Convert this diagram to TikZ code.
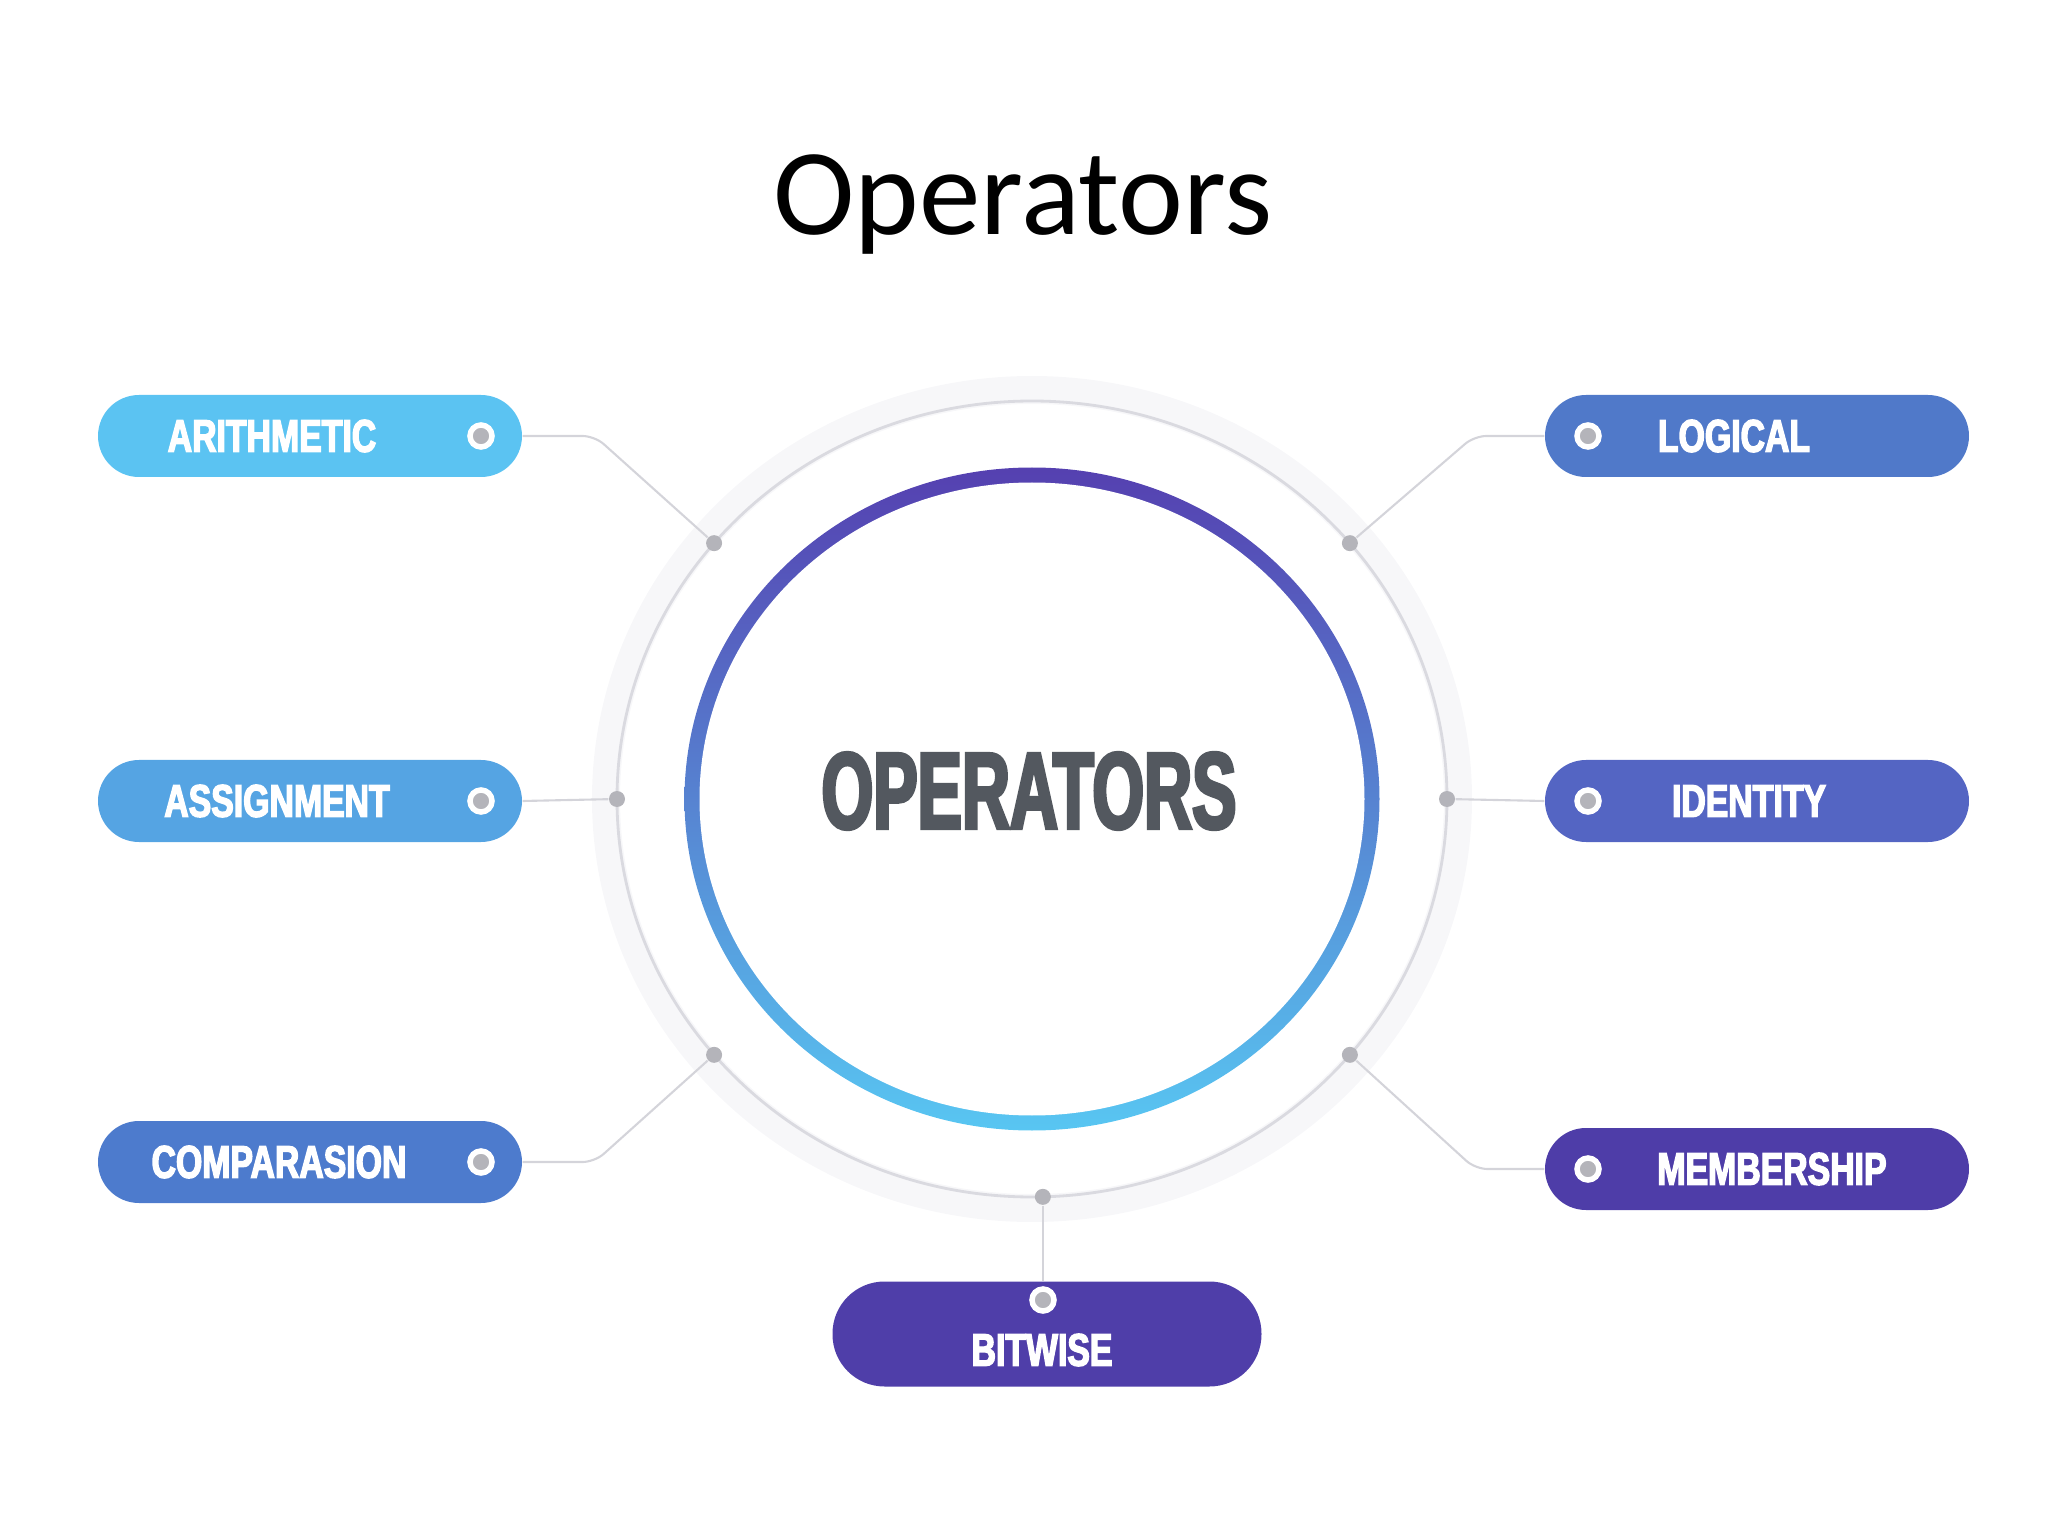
\documentclass[tikz,border=0pt]{standalone}
\usepackage{fontspec}
\setmainfont{Carlito}
\newfontfamily\pillfont[FakeStretch=0.74,FakeBold=3]{Liberation Sans}
\newfontfamily\hubfont[FakeStretch=0.61,FakeBold=3]{Liberation Sans}
\usepackage{tikz}

\begin{document}
\begin{tikzpicture}[x=1cm,y=1cm,
  pill/.style={rectangle,rounded corners=0.41cm,minimum width=4.24cm,minimum height=0.82cm,inner sep=0pt},
  pilltext/.style={text=white,font=\pillfont\bfseries\fontsize{13}{15}\selectfont,inner sep=0pt},
  pilldot/.style={circle,fill=dotgray,draw=white,line width=0.055cm,minimum size=0.22cm,inner sep=0pt},
  hubdot/.style={circle,fill=dotgray,minimum size=0.16cm,inner sep=0pt},
  wire/.style={draw=wiregray,line width=0.6pt,rounded corners=0.12cm}]
\definecolor{carith}{HTML}{5BC3F2}
\definecolor{cassign}{HTML}{55A4E3}
\definecolor{ccompar}{HTML}{4D7BCD}
\definecolor{clogic}{HTML}{5079C9}
\definecolor{cident}{HTML}{5465C3}
\definecolor{cmember}{HTML}{4E3DA8}
\definecolor{cbitw}{HTML}{4F3EA9}
\definecolor{dotgray}{HTML}{B4B4BA}
\definecolor{wiregray}{HTML}{D4D4DA}
\definecolor{ringline}{HTML}{DADAE0}
\definecolor{ringband}{HTML}{F7F7F9}
\definecolor{ringtop}{HTML}{5540B0}
\definecolor{ringmid}{HTML}{4A78D2}
\definecolor{ringbot}{HTML}{58C6F2}
\definecolor{hubgray}{HTML}{53585F}
\useasboundingbox (0,0) rectangle (20.48,-15.36);
\node[font=\fontsize{35}{42}\selectfont,anchor=base] (title) at (10.23,-2.35) {Operators};
% hub
\begin{scope}[shift={(10.32,-7.99)}]
\draw[ringband,line width=0.28cm] (0,0) ellipse (4.26 and 4.09);
\draw[ringline,line width=0.8pt] (0,0) ellipse (4.15 and 3.98);
\shade[top color=ringtop,middle color=ringmid,bottom color=ringbot] (0,0) ellipse (3.475 and 3.315);
\fill[white] (0,0) ellipse (3.325 and 3.165);
\node[hubdot] (h140) at (140:4.15 and 3.98) {};
\node[hubdot] (h180) at (180:4.15 and 3.98) {};
\node[hubdot] (h220) at (220:4.15 and 3.98) {};
\node[hubdot] (h40) at (40:4.15 and 3.98) {};
\node[hubdot] (h0) at (0:4.15 and 3.98) {};
\node[hubdot] (h320) at (320:4.15 and 3.98) {};
\node[hubdot] (h271) at (271.5:4.15 and 3.98) {};
\end{scope}
\node[text=hubgray,font=\hubfont\bfseries\fontsize{31}{36}\selectfont,inner sep=0pt] (hub) at (10.29,-7.91) {OPERATORS};
% pills
\node[pill,fill=carith] (arith) at (3.10,-4.36) {};
\node[pill,fill=cassign] (assign) at (3.10,-8.01) {};
\node[pill,fill=ccompar] (compar) at (3.10,-11.62) {};
\node[pill,fill=clogic] (logic) at (17.57,-4.36) {};
\node[pill,fill=cident] (ident) at (17.57,-8.01) {};
\node[pill,fill=cmember] (member) at (17.57,-11.69) {};
\node[pill,fill=cbitw,minimum width=4.29cm,minimum height=1.05cm,rounded corners=0.52cm] (bitw) at (10.47,-13.34) {};
\node[pilltext] (arithlbl) at (2.72,-4.36) {ARITHMETIC};
\node[pilltext] (assignlbl) at (2.77,-8.01) {ASSIGNMENT};
\node[pilltext] (comparlbl) at (2.79,-11.62) {COMPARASION};
\node[pilltext] (logiclbl) at (17.34,-4.36) {LOGICAL};
\node[pilltext] (identlbl) at (17.49,-8.01) {IDENTITY};
\node[pilltext] (memberlbl) at (17.72,-11.69) {MEMBERSHIP};
\node[pilltext] (bitwlbl) at (10.42,-13.50) {BITWISE};
\node[pilldot] (arithdot) at (4.81,-4.36) {};
\node[pilldot] (assigndot) at (4.81,-8.01) {};
\node[pilldot] (compardot) at (4.81,-11.62) {};
\node[pilldot] (logicdot) at (15.88,-4.36) {};
\node[pilldot] (identdot) at (15.88,-8.01) {};
\node[pilldot] (memberdot) at (15.88,-11.69) {};
\node[pilldot] (bitwdot) at (10.43,-13.00) {};
% wires
\draw[wire] (arith.east) -- ++(0.72,0) -- (h140);
\draw[wire] (assign.east) -- (h180);
\draw[wire] (compar.east) -- ++(0.72,0) -- (h220);
\draw[wire] (logic.west) -- ++(-0.70,0) -- (h40);
\draw[wire] (ident.west) -- (h0);
\draw[wire] (member.west) -- ++(-0.69,0) -- (h320);
\draw[wire] (h271) -- (h271 |- bitw.north);
\end{tikzpicture}
\end{document}
